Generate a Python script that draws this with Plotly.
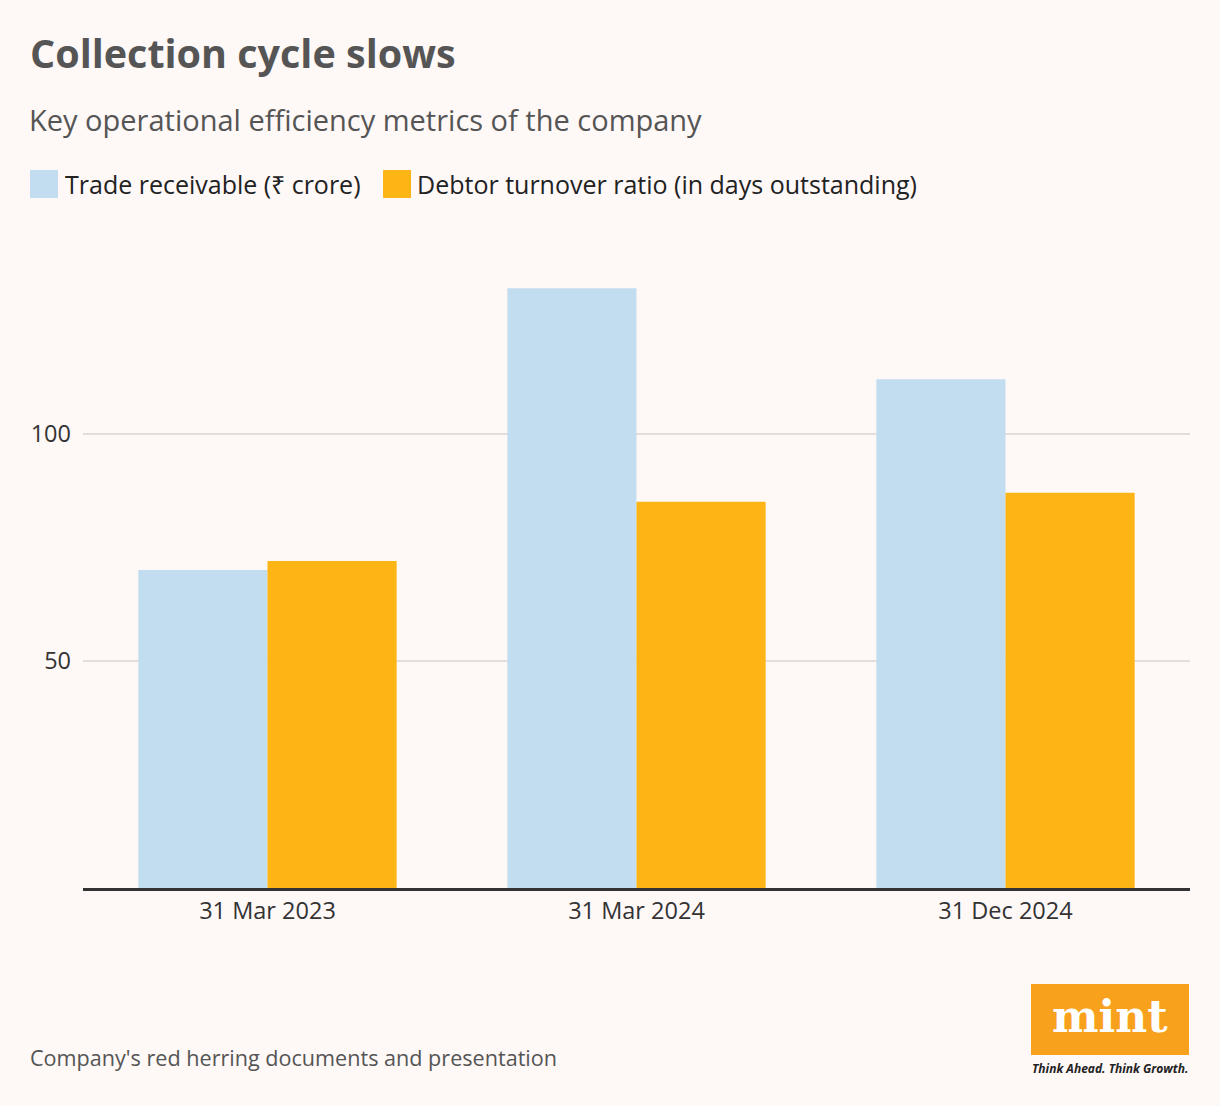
import plotly.graph_objects as go

categories = ["31 Mar 2023", "31 Mar 2024", "31 Dec 2024"]
trade_receivable = [70, 132, 112]
debtor_days = [72, 85, 87]
series_names = ["Trade receivable (₹ crore)", "Debtor turnover ratio (in days outstanding)"]
tick_vals = [50, 100]
tick_text = ["50", "100"]

BLUE = "#c2ddef"
ORANGE = "#fdb515"
BG = "#fef8f7"
FONT = "Open Sans"

fig = go.Figure()
fig.add_trace(go.Bar(x=categories, y=trade_receivable, name=series_names[0],
                     marker=dict(color=BLUE, line=dict(width=0)), showlegend=False, hoverinfo="x+y"))
fig.add_trace(go.Bar(x=categories, y=debtor_days, name=series_names[1],
                     marker=dict(color=ORANGE, line=dict(width=0)), showlegend=False, hoverinfo="x+y"))

fig.update_layout(
    width=1220, height=1106,
    paper_bgcolor=BG, plot_bgcolor=BG,
    margin=dict(l=83, r=30, t=252, b=218),
    barmode="group", bargap=0.30, bargroupgap=0,
    font=dict(family=FONT, color="#222"),
    xaxis=dict(showgrid=False, ticks="", showline=True, linecolor="#333", linewidth=3,
               tickfont=dict(size=23.5, color="#333", family=FONT), fixedrange=True),
    yaxis=dict(range=[0, 140], tickvals=tick_vals, ticktext=tick_text, showgrid=True,
               gridcolor="#e3dedd", gridwidth=1.5, zeroline=False, showline=False, ticks="",
               ticklabelstandoff=11,
               tickfont=dict(size=23.5, color="#333", family=FONT), fixedrange=True),
)

def px_x(v):
    return (v - 83) / 1107

def px_y(v):
    return (888 - v) / 636

# Title, subtitle, source
fig.add_annotation(text="<b>Collection cycle slows</b>", xref="paper", yref="paper",
                   x=px_x(28), y=px_y(53), xanchor="left", yanchor="middle", showarrow=False,
                   font=dict(size=39.5, color="#555555", family=FONT))
fig.add_annotation(text="Key operational efficiency metrics of the company", xref="paper", yref="paper",
                   x=px_x(27), y=px_y(119), xanchor="left", yanchor="middle", showarrow=False,
                   font=dict(size=29, color="#555555", family=FONT))
fig.add_annotation(text="Company's red herring documents and presentation", xref="paper", yref="paper",
                   x=px_x(28), y=px_y(1057), xanchor="left", yanchor="middle", showarrow=False,
                   font=dict(size=21.6, color="#555555", family=FONT))

# Legend (manual)
legend_items = [(30, 63, BLUE, series_names[0]), (383, 415, ORANGE, series_names[1])]
for sx, tx, col, name in legend_items:
    fig.add_shape(type="rect", xref="paper", yref="paper", x0=px_x(sx), x1=px_x(sx + 28),
                  y0=px_y(198), y1=px_y(170), fillcolor=col, line=dict(width=0))
    fig.add_annotation(text=name, xref="paper", yref="paper", x=px_x(tx), y=px_y(184),
                       xanchor="left", yanchor="middle", showarrow=False,
                       font=dict(size=25, color="#222", family=FONT))

# Logo
fig.add_shape(type="rect", xref="paper", yref="paper", x0=px_x(1031), x1=px_x(1189),
              y0=px_y(1055), y1=px_y(984), fillcolor="#f8a11c", line=dict(width=0))
fig.add_annotation(text="<b>mint</b>", xref="paper", yref="paper", x=px_x(1110), y=px_y(1017),
                   xanchor="center", yanchor="middle", showarrow=False,
                   font=dict(size=44, color="white", family="DejaVu Serif"))
fig.add_annotation(text="<b><i>Think Ahead. Think Growth.</i></b>", xref="paper", yref="paper",
                   x=px_x(1110), y=px_y(1068), xanchor="center", yanchor="middle", showarrow=False,
                   font=dict(size=12, color="#222", family=FONT))

fig.write_html("out.html", config={"displayModeBar": False},
               post_script="document.body.style.margin='0';document.body.style.background='%s';" % BG)
